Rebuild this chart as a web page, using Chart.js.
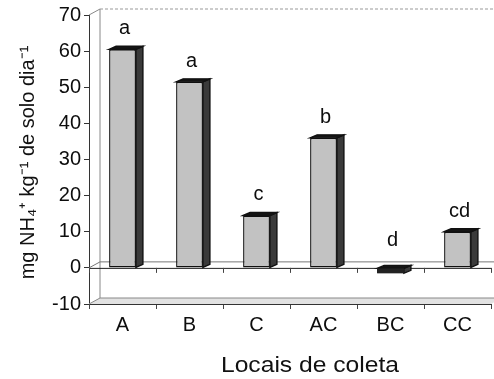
<!DOCTYPE html>
<html><head><meta charset="utf-8">
<script src="https://cdn.jsdelivr.net/npm/chart.js@4"></script>
<style>html,body{margin:0;padding:0;background:#fff;}</style>
</head><body>
<canvas id="c" width="494" height="379"></canvas>
<script>
const categories = ['A', 'B', 'C', 'AC', 'BC', 'CC'];
const values = [60.5, 51.5, 14.5, 36, -1.5, 10];
const letters = ['a', 'a', 'c', 'b', 'd', 'cd'];
const yMin = -10, yMax = 70, yStep = 10;
const yTitle = 'mg NH\u2084\u207A kg\u207B\u00B9 de solo dia\u207B\u00B9';
const xTitle = 'Locais de coleta';

const FONT = "'Liberation Sans', Arial, sans-serif";
const WALL_DX = 11, WALL_DY = 6;
const BAR_DX = 7, BAR_DY = 3;

function line(ctx, x1, y1, x2, y2) { ctx.beginPath(); ctx.moveTo(x1, y1); ctx.lineTo(x2, y2); ctx.stroke(); }

const walls = {
  id: 'walls',
  beforeDatasetsDraw(chart) {
    const ctx = chart.ctx, ca = chart.chartArea, ys = chart.scales.y, xs = chart.scales.x;
    const z = ys.getPixelForValue(0);
    const L = ca.left, R = ca.right, T = ca.top, B = ca.bottom;
    ctx.save();
    ctx.fillStyle = '#e2e2e2';
    ctx.beginPath(); ctx.moveTo(L, B); ctx.lineTo(L + WALL_DX, B - WALL_DY); ctx.lineTo(R + WALL_DX, B - WALL_DY); ctx.lineTo(R, B); ctx.closePath(); ctx.fill();
    ctx.lineWidth = 1;
    ctx.strokeStyle = '#888';
    line(ctx, L + WALL_DX, T - WALL_DY, L + WALL_DX, B - WALL_DY);
    line(ctx, L + WALL_DX, B - WALL_DY, R + WALL_DX, B - WALL_DY);
    line(ctx, L, B, L + WALL_DX, B - WALL_DY);
    line(ctx, L, T, L + WALL_DX, T - WALL_DY);
    ctx.setLineDash([3, 2]);
    ctx.strokeStyle = '#999';
    line(ctx, L + WALL_DX, T - WALL_DY, R + WALL_DX, T - WALL_DY);
    ctx.setLineDash([]);
    ctx.strokeStyle = '#777';
    line(ctx, L + WALL_DX, z - WALL_DY, R + WALL_DX, z - WALL_DY);
    line(ctx, L, z, L + WALL_DX, z - WALL_DY);
    ctx.strokeStyle = '#222';
    line(ctx, L, z + 0.5, R, z + 0.5);
    ctx.strokeStyle = '#444';
    for (let i = 0; i <= categories.length; i++) {
      const bx = Math.round(xs.getPixelForValue(i - 0.5)) + 0.5;
      line(ctx, bx, z, bx, z + 5);
    }
    ctx.restore();
  },
  afterDatasetsDraw(chart) {
    const ctx = chart.ctx;
    const meta = chart.getDatasetMeta(0);
    ctx.save();
    meta.data.forEach((el, i) => {
      const p = el.getProps(['x', 'y', 'base', 'width'], true);
      const x0 = p.x - p.width / 2, x1 = p.x + p.width / 2;
      const top = Math.min(p.y, p.base), bot = Math.max(p.y, p.base);
      const neg = p.y > p.base;
      ctx.lineWidth = 1.4;
      ctx.strokeStyle = '#111';
      ctx.fillStyle = '#3a3a3a';
      ctx.beginPath();
      ctx.moveTo(x1, top); ctx.lineTo(x1 + BAR_DX, top - BAR_DY); ctx.lineTo(x1 + BAR_DX, bot - BAR_DY); ctx.lineTo(x1, bot); ctx.closePath();
      ctx.fill(); ctx.stroke();
      ctx.fillStyle = '#151515';
      ctx.beginPath();
      ctx.moveTo(x0, top); ctx.lineTo(x0 + BAR_DX, top - BAR_DY); ctx.lineTo(x1 + BAR_DX, top - BAR_DY); ctx.lineTo(x1, top); ctx.closePath();
      ctx.fill(); ctx.stroke();
      if (neg) {
        ctx.fillStyle = '#222';
        ctx.fillRect(x0, top, p.width, bot - top);
      }
      ctx.fillStyle = '#0d0d0d';
      ctx.font = '20px ' + FONT;
      ctx.textAlign = 'center';
      ctx.textBaseline = 'alphabetic';
      ctx.fillText(letters[i], p.x + 2, top - (neg ? 22 : 15));
    });
    ctx.restore();
  },
  afterDraw(chart) {
    const ctx = chart.ctx, ca = chart.chartArea;
    ctx.save();
    ctx.fillStyle = '#111';
    ctx.textAlign = 'center';
    ctx.textBaseline = 'middle';
    ctx.font = '20px ' + FONT;
    ctx.translate(28, (ca.top + ca.bottom) / 2 + 3);
    ctx.rotate(-Math.PI / 2);
    ctx.fillText(yTitle, 0, 0);
    ctx.restore();
    ctx.save();
    ctx.fillStyle = '#111';
    ctx.textAlign = 'center';
    ctx.textBaseline = 'middle';
    ctx.font = '22px ' + FONT;
    ctx.translate((ca.left + ca.right) / 2 + 20, 366);
    ctx.scale(1.12, 1);
    ctx.fillText(xTitle, 0, 0);
    ctx.restore();
  }
};

new Chart(document.getElementById('c'), {
  type: 'bar',
  data: {
    labels: categories,
    datasets: [{
      data: values,
      backgroundColor: '#c2c2c2',
      borderColor: '#111',
      borderWidth: 1.4,
      borderSkipped: false,
      categoryPercentage: 1,
      barPercentage: 0.4
    }]
  },
  options: {
    responsive: false,
    animation: false,
    devicePixelRatio: 1,
    layout: { padding: { top: 15, right: 3, left: 0, bottom: 0 } },
    plugins: { legend: { display: false }, tooltip: { enabled: false } },
    scales: {
      x: {
        grid: { drawOnChartArea: false, tickLength: 5, color: '#444', offset: true },
        border: { display: true, color: '#333', width: 1 },
        ticks: { color: '#0d0d0d', font: { family: FONT, size: 20 }, padding: 4 },
        afterFit(s) { s.height = 75; }
      },
      y: {
        min: yMin, max: yMax,
        grid: { drawOnChartArea: false, tickLength: 5, color: '#333' },
        border: { display: true, color: '#333', width: 1 },
        ticks: { stepSize: yStep, color: '#0d0d0d', font: { family: FONT, size: 20 }, padding: 3 },
        afterFit(s) { s.width = 89; }
      }
    }
  },
  plugins: [walls]
});
</script>
</body></html>
